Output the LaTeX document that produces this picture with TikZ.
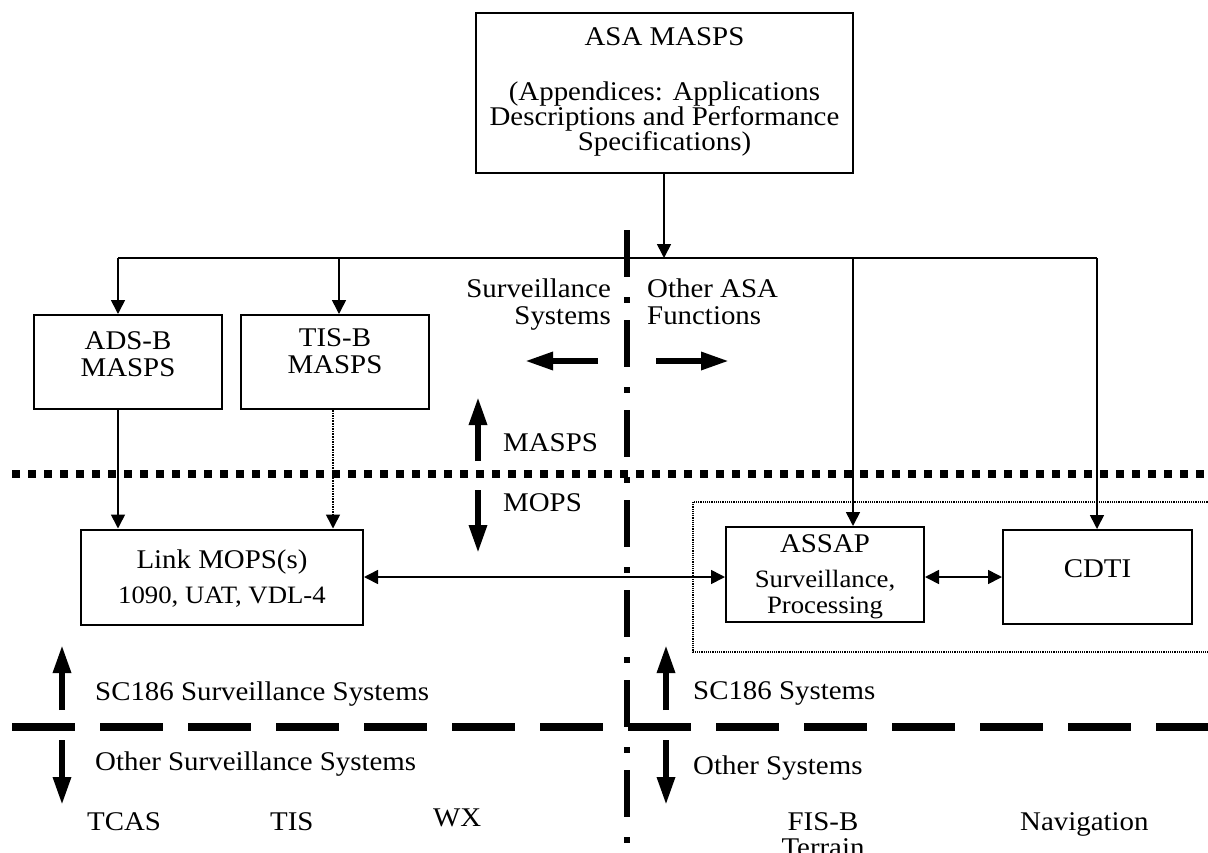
\documentclass[tikz,border=0pt]{standalone}
\usepackage{fontspec}
\setmainfont[FakeStretch=1.07]{Liberation Serif}
\usetikzlibrary{arrows.meta}

\begin{document}
\begin{tikzpicture}[
    x=1pt, y=-1pt,
    box/.style={draw, line width=2pt, inner sep=0pt, align=center,
                font=\fontsize{27}{27}\selectfont},
    txt/.style={inner sep=0pt, font=\fontsize{27}{27}\selectfont},
    wire/.style={line width=1.6pt},
    onearrow/.style={wire, -{Triangle[length=14pt,width=14pt]}},
    twoarrow/.style={wire, {Triangle[length=14pt,width=14pt]}-{Triangle[length=14pt,width=14pt]}},
    fatarrow/.style={line width=6pt, -{Triangle[length=28pt,width=17pt]}}
  ]
  \useasboundingbox (0,0) rectangle (1208,852);
  \clip (0,0) rectangle (1208,852);

  % separator lines
  \draw[line width=8pt, dash pattern=on 8pt off 8pt] (12,474) -- (1215,474);
  \draw[line width=8pt, dash pattern=on 63pt off 25pt] (12,727) -- (1215,727);
  \draw[line width=6pt, dash pattern=on 47pt off 20pt on 6pt off 17pt] (627,230) -- (627,870);

  % boxes
  \node[box, minimum width=377pt, text height=137pt, text depth=23pt,
        font=\fontsize{27}{25}\selectfont] (asa) at (664.5,93)
       {ASA MASPS\\[30pt](Appendices: Applications\\Descriptions and Performance\\Specifications)};
  \node[box, minimum width=188pt, text height=61pt, text depth=33pt] (adsb) at (128,362) {ADS-B\\MASPS};
  \node[box, minimum width=188pt, text height=58pt, text depth=36pt] (tisb) at (335,362) {TIS-B\\MASPS};
  \node[box, minimum width=282pt, text height=74pt, text depth=21pt] (link) at (222,577)
       {Link MOPS(s)\\[8pt]{\fontsize{25}{26}\selectfont 1090, UAT, VDL-4}};
  \node[box, minimum width=198pt, text height=86pt, text depth=9pt] (assap) at (825,574.5)
       {ASSAP\\[8pt]{\fontsize{25}{26}\selectfont Surveillance,}\\[-1pt]{\fontsize{25}{26}\selectfont Processing}};
  \node[box, minimum width=189pt, text height=47pt, text depth=47pt] (cdti) at (1097.5,577) {CDTI};
  \draw[densely dotted, line width=1.2pt] (693,502) rectangle (1215,652);

  % distribution bus
  \coordinate (dA) at (118,258);
  \coordinate (dT) at (339,258);
  \coordinate (dS) at (853,258);
  \coordinate (dC) at (1097,258);
  \draw[wire] (dA) -- (dC);
  \draw[onearrow] (asa.south -| 664,0) -- (dA -| 664,0);
  \draw[onearrow] (dA) -- (dA |- adsb.north);
  \draw[onearrow] (dT) -- (dT |- tisb.north);
  \draw[onearrow] (dS) -- (dS |- assap.north);
  \draw[onearrow] (dC) -- (dC |- cdti.north);
  \draw[onearrow] (dA |- adsb.south) -- (dA |- link.north);
  \draw[onearrow, densely dotted] ([xshift=-2pt]tisb.south) -- ([xshift=-2pt]tisb.south |- link.north);
  \draw[twoarrow] (link.east) -- (link.east -| assap.west);
  \draw[twoarrow] (cdti.west -| assap.east) -- (cdti.west);

  % region labels
  \node[txt, align=right, anchor=base east] (survsys) at (611,324) {Surveillance\\Systems};
  \node[txt, align=left, anchor=base west] (otherasa) at (647,324) {Other ASA\\Functions};
  \draw[fatarrow] (598,361) -- (525,361);
  \draw[fatarrow] (656,361) -- (729,361);
  \node[txt, anchor=base west] (masps) at (503,451) {MASPS};
  \node[txt, anchor=base west] (mops) at (503,511) {MOPS};
  \draw[fatarrow] (478,461) -- (478,397);
  \draw[fatarrow] (478,490) -- (478,553);

  \node[txt, anchor=base west] (sc186s) at (95,700) {SC186 Surveillance Systems};
  \node[txt, anchor=base west] (others) at (95,770) {Other Surveillance Systems};
  \node[txt, anchor=base west] (sc186) at (693,699) {SC186 Systems};
  \node[txt, anchor=base west] (other) at (693,774) {Other Systems};
  \foreach \xx in {62,666} {
    \draw[fatarrow] (\xx,710) -- (\xx,645);
    \draw[fatarrow] (\xx,740) -- (\xx,805);
  }

  % other systems
  \foreach \name/\xx/\yy/\lbl in {tcas/87/830/TCAS, tis/270/830/TIS, wx/433/826/WX, nav/1020/830/Navigation}
    \node[txt, anchor=base west] (\name) at (\xx,\yy) {\lbl};
  \node[txt, align=center, anchor=base] (fisb) at (823,856) {FIS-B\\[-1pt]Terrain};
\end{tikzpicture}
\end{document}
